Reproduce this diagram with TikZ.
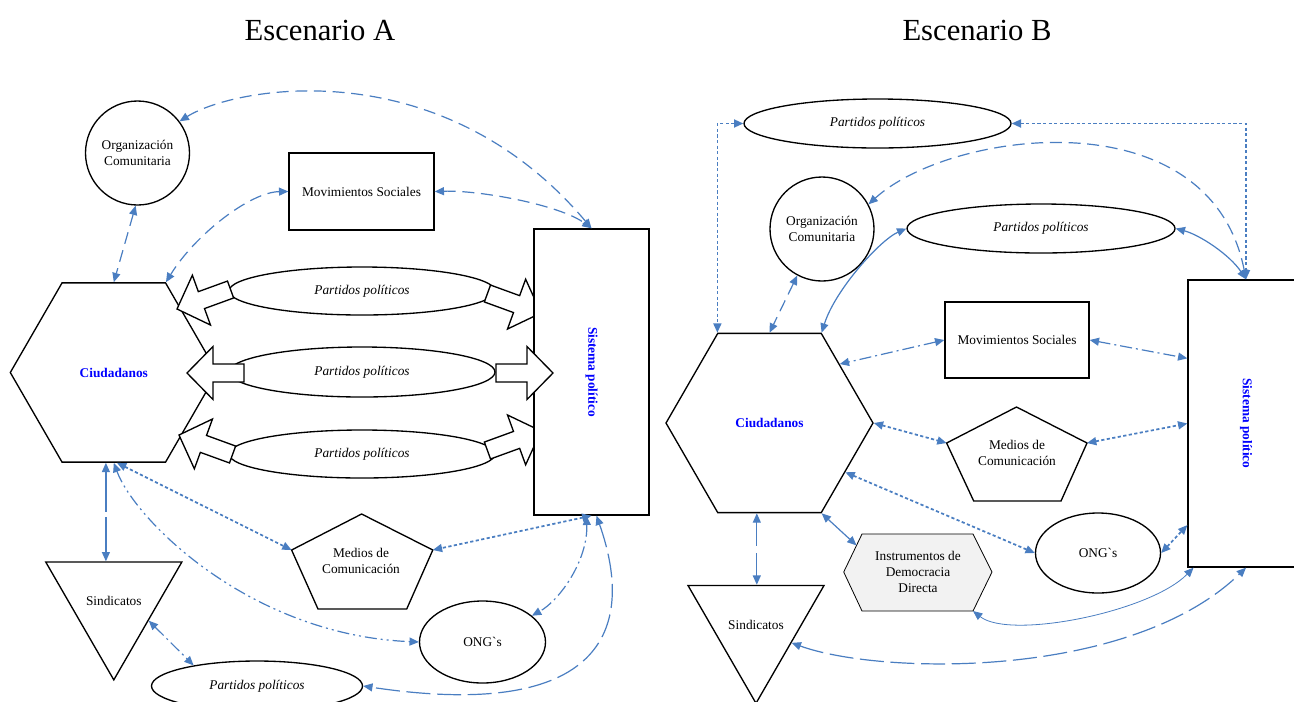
\documentclass[tikz,border=0pt]{standalone}
\usepackage{graphicx}
\usepackage{fontspec}
\setmainfont{Liberation Serif}
\usetikzlibrary{arrows.meta,shapes.geometric,calc}
\definecolor{linkblue}{RGB}{74,126,193}
\definecolor{insgray}{RGB}{242,242,242}
\newcommand*{\lbl}{\fontsize{10}{11.5}\selectfont}
\newcommand*{\ong}{ONG{\addfontfeature{Ligatures=TeXOff}`}s}
\newcommand*{\blockarrow}[3]{%
	\filldraw[fill=white,line width=1pt,shift={(#1,#2)},rotate=#3]
	(0,0) -- (26,-26.5) -- (26,-9) -- (57,-9) -- (57,9) -- (26,9) -- (26,26.5) -- cycle;}
\tikzset{
	shp/.style={draw,line width=1pt,fill=white,inner sep=0pt,align=center,font=\lbl},
	oval/.style={shp,ellipse},
	partido/.style={oval,font=\lbl\itshape},
	hexa/.style={shp,regular polygon,regular polygon sides=6,minimum size=155.25pt,font=\lbl\bfseries,text=blue},
	tri/.style={shp,regular polygon,regular polygon sides=3,shape border rotate=180,minimum size=115.2pt},
	sistema/.style={shp,font=\lbl\bfseries,text=blue},
	titulo/.style={font=\fontsize{23}{27}\selectfont},
	link/.style={linkblue,line width=0.9pt,>={Triangle[length=7pt,width=6pt]},<->},
	solidlink/.style={link},
	dashlink/.style={link,dash pattern=on 9pt off 5pt},
	longdash/.style={link,dash pattern=on 18pt off 5pt},
	solidgap/.style={link,dash pattern=on 30pt off 4pt},
	dotlink/.style={link,line width=1.3pt,dash pattern=on 2.4pt off 1.8pt},
	dashdot/.style={link,dash pattern=on 9pt off 3pt on 1.5pt off 3pt},
	dashdotdot/.style={link,dash pattern=on 9pt off 3pt on 1.5pt off 3pt on 1.5pt off 3pt}
}

\begin{document}
\begin{tikzpicture}[x=0.75pt,y=-0.75pt]
	\useasboundingbox (0,0) rectangle (1294,701);
	
	% Escenario A
	\node[titulo] (titA) at (320,30) {Escenario A};
	
	\node[partido,minimum width=199.5pt,minimum height=36pt] (parA1) at (362,291) {Partidos políticos};
	\node[partido,minimum width=199.5pt,minimum height=37.5pt] (parA2) at (362,372) {Partidos políticos};
	\node[partido,minimum width=199.5pt,minimum height=36pt] (parA3) at (362,454) {Partidos políticos};
	\node[hexa] (ciuA) at (113.8,372.5) {Ciudadanos};
	\blockarrow{177}{309}{20}
	\blockarrow{179}{435}{-20}
	\blockarrow{541}{313}{160}
	\blockarrow{541}{431}{200}
	\node[sistema,minimum width=86.25pt,minimum height=214.5pt] (sisA) at (591.5,372) {\rotatebox{-90}{Sistema político}};
	\blockarrow{187}{373}{0}
	\blockarrow{553}{373}{180}
	
	\node[oval,minimum size=78pt] (orgA) at (137.5,153) {Organización\\Comunitaria};
	\node[shp,minimum width=108.75pt,minimum height=57.75pt] (movA) at (361.5,191.5) {Movimientos Sociales};
	\draw[line width=1pt] (361.6,514) -- (432.8,550) coordinate (medA-r) -- (406.7,609) -- (318,609) -- (291.6,550) coordinate (medA-l) -- cycle;
	\node[font=\lbl,align=center] (medA) at (361,561) {Medios de\\Comunicación};
	\node[oval,minimum width=94.5pt,minimum height=61.5pt] (ongA) at (482.5,642) {\ong};
	\node[tri] (sinA) at (113.8,601.3) {Sindicatos};
	\node[partido,minimum width=158.25pt,minimum height=37.5pt] (parA4) at (257,686) {Partidos políticos};
	
	\draw[dashlink] (orgA.37) .. controls (236,86) and (441,50) .. (sisA.north);
	\draw[dashlink] (orgA.-92) -- (ciuA.north);
	\draw[dashlink] (movA.west) .. controls (250,192) and (195,235) .. (ciuA.60);
	\draw[dashlink] (movA.east) .. controls (480,190) and (560,205) .. (sisA.north);
	\draw[dotlink] (ciuA.-88) -- (medA-l);
	\draw[dashdotdot] (ciuA.south) .. controls (135,520) and (250,635) .. (ongA.west);
	\draw[solidgap] (ciuA.-95) -- (ciuA.-95 |- sinA.north);
	\draw[dashdot] (sinA.-29) -- (parA4.162);
	\draw[dotlink] (sisA.-90) -- (medA-r);
	\draw[dashdot] (sisA.-92) .. controls (588,560) and (560,600) .. (ongA.28);
	\draw[longdash] (sisA.-88) .. controls (640,640) and (590,720) .. (parA4.east);
	
	% Escenario B
	\node[titulo] (titB) at (977,30) {Escenario B};
	
	\node[partido,minimum width=200.25pt,minimum height=36.75pt] (parB1) at (877.5,123.5) {Partidos políticos};
	\node[oval,minimum size=78pt] (orgB) at (822,229) {Organización\\Comunitaria};
	\node[partido,minimum width=201pt,minimum height=36.75pt] (parB2) at (1041,228.5) {Partidos políticos};
	\node[shp,minimum width=108pt,minimum height=57pt] (movB) at (1017,340) {Movimientos Sociales};
	\node[sistema,minimum width=87pt,minimum height=215.25pt] (sisB) at (1246,423.5) {\rotatebox{-90}{Sistema político}};
	\node[hexa] (ciuB) at (769.5,423) {Ciudadanos};
	\draw[line width=1pt] (1016.5,407) -- (1087,443) coordinate (medB-r) -- (1061,501) -- (973.7,501) -- (946.6,443) coordinate (medB-l) -- cycle;
	\node[font=\lbl,align=center] (medB) at (1017,453) {Medios de\\Comunicación};
	\node[oval,minimum width=93.75pt,minimum height=60pt] (ongB) at (1098,553) {\ong};
	\draw[line width=0.6pt,fill=insgray] (843.7,572) coordinate (insB-w) -- (862,534) coordinate (insB-nw) -- (973,534) -- (992,572) -- (973,611) coordinate (insB-se) -- (862,611) -- cycle;
	\node[font=\fontsize{10}{12}\selectfont,align=center] (insB) at (918,572) {Instrumentos de\\Democracia\\Directa};
	\node[tri] (sinB) at (756,624.7) {Sindicatos};
	
	\draw[dotlink] (parB1.west) -| (ciuB.120);
	\draw[dotlink] (parB1.east) -| (sisB.north);
	\draw[dashlink] (orgB.28) .. controls (950,130) and (1210,95) .. (sisB.north);
	\draw[dashlink] (orgB.-118) -- (ciuB.north);
	\draw[solidlink] (parB2.west) .. controls (880,240) and (835,290) .. (ciuB.60);
	\draw[solidlink] (parB2.east) .. controls (1200,235) and (1230,255) .. (sisB.north);
	\draw[dashdot] (movB.west) -- (ciuB.40);
	\draw[dashdot] (movB.east) -- (sisB.132);
	\draw[dotlink] (ciuB.east) -- (medB-l);
	\draw[dotlink] (medB-r) -- (sisB.west);
	\draw[dotlink] (ciuB.-33) -- (ongB.west);
	\draw[dotlink] (ongB.east) -- (sisB.-120);
	\draw[solidlink] (ciuB.-60) -- ($(insB-w)!0.7!(insB-nw)$);
	\draw[longdash] (ciuB.-98) -- (ciuB.-98 |- sinB.north);
	\draw[solidlink,line width=0.6pt] (insB-se) .. controls (1010,640) and (1150,612) .. (sisB.-110);
	\draw[longdash] (sinB.-27) .. controls (880,675) and (1130,680) .. (sisB.-90);
\end{tikzpicture}
\end{document}
